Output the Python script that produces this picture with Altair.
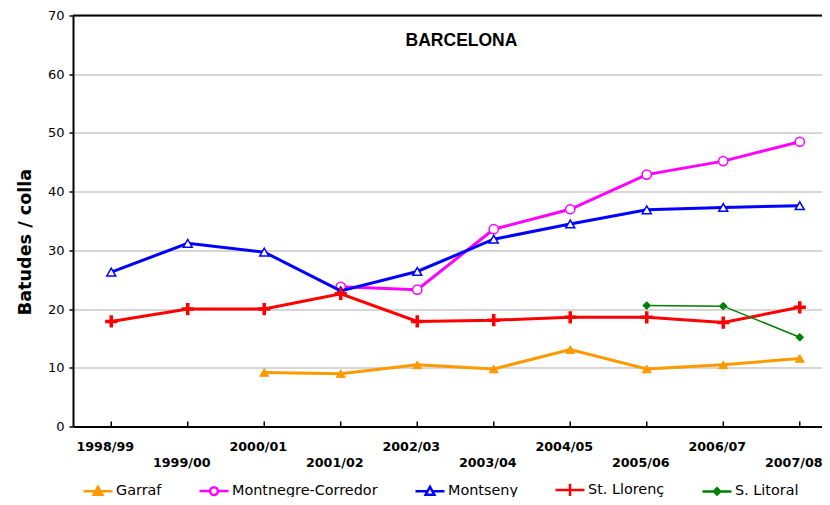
import altair as alt
import pandas as pd

# ---------------- data ----------------
seasons = ["1998/99", "1999/00", "2000/01", "2001/02", "2002/03",
           "2003/04", "2004/05", "2005/06", "2006/07", "2007/08"]
series_names = ["Garraf", "Montnegre-Corredor", "Montseny", "St. Llorenç", "S. Litoral"]
garraf = [None, None, 9.2, 9.0, 10.5, 9.8, 13.1, 9.8, 10.5, 11.6]
montnegre = [None, None, None, 23.8, 23.3, 33.6, 37.0, 42.9, 45.2, 48.5]
montseny = [26.3, 31.2, 29.7, 23.1, 26.4, 31.9, 34.5, 36.9, 37.3, 37.6]
llorenc = [17.9, 20.0, 20.0, 22.6, 17.9, 18.1, 18.6, 18.6, 17.7, 20.3]
litoral = [None, None, None, None, None, None, None, 20.6, 20.5, 15.2]
y_ticks = [0, 10, 20, 30, 40, 50, 60, 70]
chart_title = "BARCELONA"
y_title = "Batudes / colla"

series_values = [garraf, montnegre, montseny, llorenc, litoral]

# ---------------- styles ----------------
colors = ["#FF9900", "#FF00FF", "#0000FF", "#FF0000", "#008000"]
fills = ["#FF9900", "#FFFFFF", "#FFFFFF", "#FF0000", "#008000"]
line_widths = [3, 3, 3, 3, 1.5]
marker_shapes = ["triangle-up", "circle", "triangle-up", "M-1,0H1M0,-1V1", "diamond"]
marker_sizes = [80, 85, 80, 150, 60]
marker_stroke_w = [1, 1.5, 1.5, 3.5, 1]
legend_paths = [
    "M-1,0H1M0,-0.3L0.3,0.24L-0.3,0.24Z",
    "M-1,0H-0.27M0.27,0H1M0.27,0A0.27,0.27 0 1,1 -0.27,0A0.27,0.27 0 1,1 0.27,0Z",
    "M-1,0H-0.17M0.17,0H1M0,-0.3L0.3,0.24L-0.3,0.24Z",
    "M-1,0H1M0,-0.42V0.42",
    "M-1,0H1M0,-0.22L0.22,0L0,0.22L-0.22,0Z",
]

rows = []
for name, vals in zip(series_names, series_values):
    for i, (s, v) in enumerate(zip(seasons, vals)):
        if v is not None:
            rows.append({"i": i, "season": s, "series": name, "value": v})
df = pd.DataFrame(rows)
sdf = pd.DataFrame({"i": list(range(len(seasons))), "season": seasons})

STEP = 76.5            # px per category
W, H = 749, 411        # plot area clipped at the window's right edge
x_max = -0.5 + W / STEP

x_enc = alt.X("i:Q",
              scale=alt.Scale(domain=[-0.5, x_max], nice=False, zero=False),
              axis=alt.Axis(labels=False, ticks=False, grid=False, domain=True,
                            domainColor="black", domainWidth=2, title=None))
y_enc = alt.Y("value:Q",
              scale=alt.Scale(domain=[0, 70], nice=False, zero=True),
              axis=alt.Axis(values=y_ticks, grid=True, gridColor="#C8C8C8", gridWidth=1.5,
                            tickSize=4, tickColor="black", tickWidth=1.5,
                            labelPadding=5, labelFont="DejaVu Sans", labelFontSize=13,
                            labelColor="black", labelFlush=False, labelOverlap=False,
                            domainColor="black", domainWidth=2,
                            title=y_title, titleFont="DejaVu Sans", titleFontSize=17.6,
                            titleFontWeight="bold", titleColor="black",
                            titleAngle=270, titleAlign="center", titleBaseline="middle",
                            titleX=-48, titleY=226))

base = alt.Chart(df)
layers = []
for k, name in enumerate(series_names):
    sub = base.transform_filter(alt.datum.series == name)
    layers.append(sub.mark_line(color=colors[k], strokeWidth=line_widths[k]).encode(x=x_enc, y=y_enc))
    layers.append(sub.mark_point(shape=marker_shapes[k], size=marker_sizes[k],
                                 filled=False, fill=fills[k], stroke=colors[k],
                                 strokeWidth=marker_stroke_w[k], opacity=1,
                                 fillOpacity=1).encode(x=x_enc, y=y_enc))

legend = alt.Legend(orient="none", legendX=9, legendY=458, direction="horizontal",
                    columns=5, title=None, symbolSize=841, symbolStrokeWidth=2.5,
                    labelFont="DejaVu Sans", labelFontSize=14.4, labelColor="black",
                    labelOffset=2, columnPadding=32, padding=0)
legend_layer = base.transform_filter("false").mark_point(filled=False, strokeWidth=2.5, opacity=1).encode(
    x=x_enc, y=y_enc,
    shape=alt.Shape("series:N", scale=alt.Scale(domain=series_names, range=legend_paths), legend=legend),
    stroke=alt.Stroke("series:N", scale=alt.Scale(domain=series_names, range=colors), legend=legend),
    fill=alt.Fill("series:N", scale=alt.Scale(domain=series_names, range=fills), legend=legend),
)

ticks = alt.Chart(sdf).mark_rule(color="black", strokeWidth=1.5).encode(
    x=alt.X("i:Q"), y=alt.value(H), y2=alt.value(H - 5))
top_border = alt.Chart(sdf).transform_filter("datum.i == 0").mark_rule(
    color="black", strokeWidth=2).encode(x=alt.value(0), x2=alt.value(W), y=alt.value(0))
lab_even = alt.Chart(sdf).transform_filter("datum.i % 2 == 0").mark_text(
    font="DejaVu Sans", fontWeight="bold", fontSize=12.7, baseline="middle", color="black", dx=-6
).encode(x=alt.X("i:Q"), y=alt.value(H + 20), text="season:N")
lab_odd = alt.Chart(sdf).transform_filter("datum.i % 2 == 1").mark_text(
    font="DejaVu Sans", fontWeight="bold", fontSize=12.7, baseline="middle", color="black", dx=-6
).encode(x=alt.X("i:Q"), y=alt.value(H + 36), text="season:N")

chart = alt.layer(*layers, legend_layer, ticks, top_border, lab_even, lab_odd).properties(
    width=W, height=H,
    title=alt.TitleParams(chart_title, font="Liberation Sans", fontSize=17.5, fontWeight="bold",
                          color="black", anchor="middle", dx=14, offset=-40),
    autosize=alt.AutoSizeParams(type="none"),
    padding={"left": 65, "top": 7.5, "right": 0, "bottom": 70.5},
).configure_view(strokeWidth=0)

chart.save("out.html", embed_options={"renderer": "svg", "actions": False})
